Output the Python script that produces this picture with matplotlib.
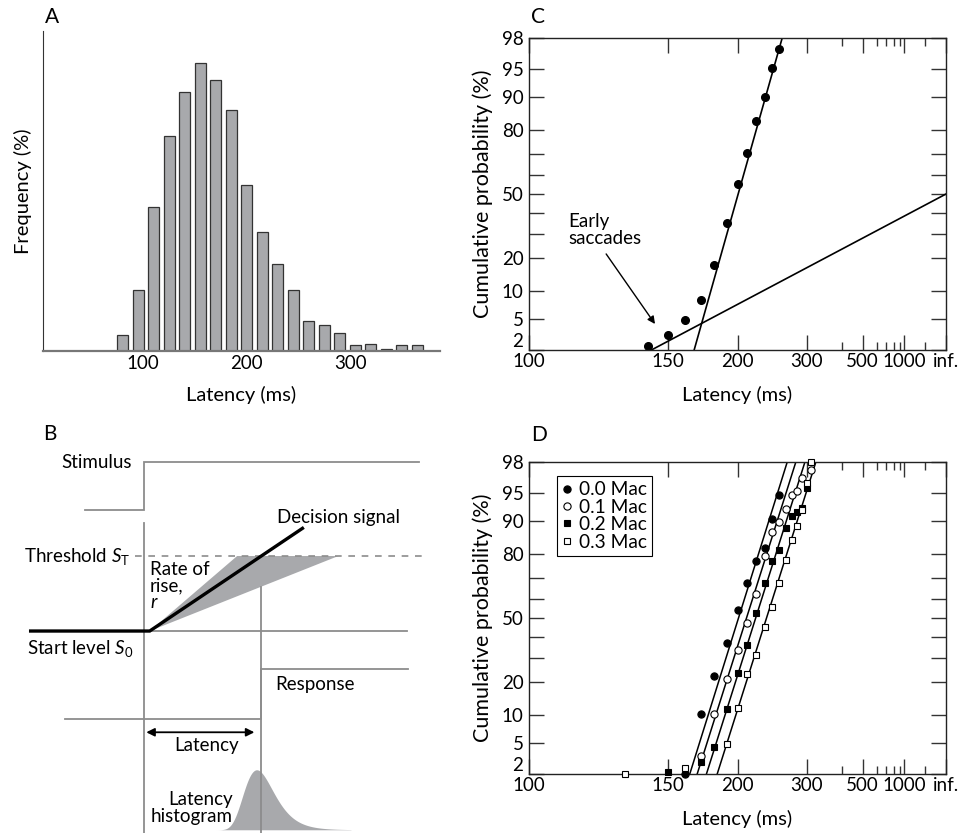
import numpy as np
import matplotlib
matplotlib.use("Agg")
import matplotlib.pyplot as plt
from matplotlib.patches import Polygon
from statistics import NormalDist

plt.rcParams['font.family'] = ['Lato', 'DejaVu Sans']
plt.rcParams['mathtext.fontset'] = 'custom'
plt.rcParams['mathtext.rm'] = 'Lato'
plt.rcParams['mathtext.it'] = 'Lato:italic'

# ---------------- data ----------------
# A: latency histogram (15 ms bins)
hist_bins = [80, 95, 110, 125, 140, 155, 170, 185, 200, 215,
             230, 245, 260, 275, 290, 305, 320, 335, 350, 365]
hist_freq = [0.8, 3.0, 7.1, 10.6, 12.8, 14.2, 13.4, 11.9, 8.2, 5.9,
             4.3, 3.0, 1.5, 1.3, 0.9, 0.3, 0.35, 0.1, 0.3, 0.3]

# C: one subject, cumulative latency distribution
c_latency = [140, 150, 160, 170, 180, 190, 200, 210, 220, 230, 240, 250]
c_cumprob = [2.3, 3.2, 4.8, 8.2, 17.4, 35.2, 55.0, 70.6, 83.3, 89.9, 95.1, 97.2]
# fitted lines: (median promptness in 1/s, sd in 1/s)
c_main_fit = (4.984, 0.514)
c_early_fit = (0.0, 3.44)

# D: four luminance conditions
d_labels = ['0.0 Mac', '0.1 Mac', '0.2 Mac', '0.3 Mac']
d_latency = [
    [160, 170, 180, 190, 200, 210, 220, 230, 240, 250],
    [170, 180, 190, 200, 210, 220, 230, 240, 250, 260, 270, 280, 290, 310],
    [150, 170, 180, 190, 200, 210, 220, 230, 240, 250, 260, 270, 280, 290, 300],
    [130, 160, 190, 200, 210, 220, 230, 240, 250, 260, 270, 280, 290, 300, 310],
]
d_cumprob = [
    [2.0, 10.4, 22.3, 36.9, 54.3, 67.7, 77.3, 82.3, 90.4, 94.7],
    [3.5, 10.3, 21.2, 33.8, 47.4, 62.5, 79.1, 87.1, 89.7, 92.5, 94.7, 95.3, 96.7, 97.4],
    [2.1, 2.9, 4.5, 11.6, 23.6, 36.2, 52.6, 67.9, 77.3, 81.5, 88.1, 91.0, 91.9, 92.6, 95.7],
    [2.0, 2.45, 4.9, 11.9, 23.2, 31.5, 45.5, 55.9, 67.9, 77.9, 84.8, 88.8, 92.2, 96.2, 98.0],
]
d_fits = [(4.976, 0.569), (4.784, 0.576), (4.564, 0.575), (4.304, 0.576)]
d_markers = [('o', 'black'), ('o', 'white'), ('s', 'black'), ('s', 'white')]

# B: LATER model schematic (time in ms, signal in arbitrary units)
STIM_ONSET = 0
RISE_START = 5
S0, ST = 0.0, 1.0
RATE_MEDIAN = 1 / 97
RATE_FAST, RATE_SLOW = 1 / 76, 1 / 164
RATE_SD = 0.15 * RATE_MEDIAN
STIM_LEVELS = (1.61, 2.25)
RESP_LEVELS = (-1.17, -0.51)

prob_ticks = [2, 5, 10, 20, 30, 40, 50, 60, 70, 80, 90, 95, 98]
INF_LAT = 1e12
lat_major = [100, 150, 200, 300, 500, 1000, INF_LAT]
lat_major_labels = ['100', '150', '200', '300', '500', '1000', 'inf.']
lat_minor = [400, 600, 700, 800, 900, 2000]

GREY = '#8c8c8c'
BAR_GREY = '#a8a9ac'
FS = 13

_nd = NormalDist()
_ppf = np.vectorize(lambda p: _nd.inv_cdf(min(max(p, 1e-9), 1 - 1e-9)), otypes=[float])
_cdf = np.vectorize(_nd.cdf, otypes=[float])


def prob_fwd(p):
    return _ppf(np.asarray(p, float) / 100.0)


def prob_inv(z):
    return _cdf(np.asarray(z, float)) * 100.0


def lat_fwd(t):
    t = np.asarray(t, float)
    with np.errstate(divide='ignore', invalid='ignore'):
        return np.where(t > 0, -1000.0 / t, -1e9)


def lat_inv(u):
    u = np.asarray(u, float)
    with np.errstate(divide='ignore', invalid='ignore'):
        return np.where(u < 0, -1000.0 / u, INF_LAT)


def fit_line(mu, sd, p_lo=2.0, p_hi=98.0):
    """End points (latency, %) of a straight reciprobit line."""
    z = prob_fwd([p_lo, p_hi])
    prompt = sd * z - mu
    lat = np.where(prompt < -1e-9, -1000.0 / np.minimum(prompt, -1e-12), INF_LAT)
    return lat, [p_lo, p_hi]


def reciprobit_axes(ax):
    ax.set_xscale('function', functions=(lat_fwd, lat_inv))
    ax.set_yscale('function', functions=(prob_fwd, prob_inv))
    ax.set_xlim(100, INF_LAT)
    ax.set_ylim(2, 98)
    ax.set_xticks(lat_major)
    ax.set_xticklabels(lat_major_labels)
    ax.set_xticks(lat_minor, minor=True)
    ax.set_yticks(prob_ticks)
    ax.set_yticklabels([str(v) if v not in (30, 40, 60, 70) else '' for v in prob_ticks])
    ax.yaxis.set_minor_locator(plt.NullLocator())
    ax.tick_params(which='both', direction='in', top=True, right=True,
                   color='#333333', width=1, labelsize=FS + 0.5)
    ax.tick_params(axis='y', pad=4)
    ax.tick_params(axis='x', pad=2)
    ax.tick_params(which='major', length=10.5)
    ax.tick_params(which='minor', length=5.5)
    # bottom "2" sits just above the corner, clear of the "100"
    ax.yaxis.get_majorticklabels()[0].set_verticalalignment('bottom')
    for s in ax.spines.values():
        s.set_color('#222222')
        s.set_linewidth(1.0)
    ax.set_xlabel('Latency (ms)', fontsize=FS + 1.5, va='center')
    ax.xaxis.set_label_coords(0.5, -0.145)
    ax.set_ylabel('Cumulative probability (%)', fontsize=FS + 2.5, va='center')
    ax.yaxis.set_label_coords(-0.112, 0.5)


fig = plt.figure(figsize=(9.65, 8.33), dpi=100)
W, H = 965, 833


def px_axes(x0, y0, x1, y1):
    return fig.add_axes([x0 / W, 1 - y1 / H, (x1 - x0) / W, (y1 - y0) / H])


# ---------------- A ----------------
axA = px_axes(43, 31, 440, 351)
axA.bar(hist_bins, hist_freq, width=10.7, color=BAR_GREY, edgecolor='#333333', linewidth=0.9)
axA.set_xlim(3, 387)
axA.set_ylim(0, 15.8)
axA.set_xticks([100, 200, 300])
axA.set_yticks([])
axA.tick_params(axis='x', length=0, labelsize=FS + 0.5, pad=3)
axA.spines[['top', 'right']].set_visible(False)
axA.spines['left'].set_color('#333333')
axA.spines['bottom'].set_color('#777777')
axA.spines['bottom'].set_linewidth(1.6)
axA.set_xlabel('Latency (ms)', fontsize=FS + 1.5, va='center')
axA.xaxis.set_label_coords(0.5, -0.137)
axA.set_ylabel('Frequency (%)', fontsize=FS + 1.5, va='center')
axA.yaxis.set_label_coords(-0.05, 0.5)

# ---------------- B ----------------
axB = px_axes(0, 440, 440, 833)
axB.set_xlim(-125.2, 257.4)
axB.set_ylim(-2.693, 2.547)
axB.axis('off')

resp_t = RISE_START + (ST - S0) / RATE_MEDIAN
t_fast = RISE_START + (ST - S0) / RATE_FAST
t_slow = RISE_START + (ST - S0) / RATE_SLOW

# stimulus step
axB.plot([-51, STIM_ONSET, STIM_ONSET, 239],
         [STIM_LEVELS[0], STIM_LEVELS[0], STIM_LEVELS[1], STIM_LEVELS[1]],
         color=GREY, lw=1.3, solid_joinstyle='miter')
# response step
axB.plot([-69, resp_t, resp_t, 230],
         [RESP_LEVELS[0], RESP_LEVELS[0], RESP_LEVELS[1], RESP_LEVELS[1]],
         color=GREY, lw=1.3, solid_joinstyle='miter')
# vertical time markers
axB.plot([STIM_ONSET, STIM_ONSET], [1.44, -2.693], color=GREY, lw=1.3)
slow_at_resp = S0 + RATE_SLOW * (resp_t - RISE_START)
axB.plot([resp_t, resp_t], [slow_at_resp, -2.693], color=GREY, lw=1.3)
# threshold and start level
axB.plot([-8, 242], [ST, ST], color=GREY, lw=1.2, dashes=(4, 4))
axB.plot([STIM_ONSET, 229], [S0, S0], color=GREY, lw=1.3)
# range of rates of rise
axB.add_patch(Polygon([[RISE_START, S0], [t_fast, ST], [t_slow, ST]],
                      closed=True, facecolor=BAR_GREY, edgecolor='none'))
# decision signal
t_end = 139
axB.plot([-100, RISE_START, t_end], [S0, S0, S0 + RATE_MEDIAN * (t_end - RISE_START)],
         color='black', lw=2.4, solid_capstyle='butt', solid_joinstyle='miter')
# latency arrow
axB.annotate('', xy=(resp_t - 6, -1.35), xytext=(STIM_ONSET + 2, -1.35),
             arrowprops=dict(arrowstyle='<|-|>', color='black', lw=1.3,
                             mutation_scale=12, shrinkA=0, shrinkB=0))
# latency histogram from the model (reciprocal-normal)
t_hist = np.linspace(RISE_START + 40, 180, 300)
rate = 1.0 / (t_hist - RISE_START)
dens = np.exp(-0.5 * ((rate - RATE_MEDIAN) / RATE_SD) ** 2) * rate ** 2
dens = dens / dens.max() * 0.8
axB.fill_between(t_hist, -2.65, -2.65 + dens, color=BAR_GREY, lw=0)

bfs = FS + 0.5
axB.text(-11, STIM_LEVELS[1], 'Stimulus', ha='right', va='center', fontsize=bfs)
axB.text(116, 1.52, 'Decision signal', ha='left', va='center', fontsize=bfs)
axB.text(-12, ST, r'Threshold $S_{\mathrm{T}}$', ha='right', va='center', fontsize=bfs)
axB.text(RISE_START, 0.93, 'Rate of\nrise,\n$r$', ha='left', va='top', fontsize=bfs,
         linespacing=0.95)
axB.text(-102, -0.23, r'Start level $S_0$', ha='left', va='center', fontsize=bfs)
axB.text(114, -0.71, 'Response', ha='left', va='center', fontsize=bfs)
axB.text(54, -1.53, 'Latency', ha='center', va='center', fontsize=bfs)
axB.text(77, -2.36, 'Latency\nhistogram', ha='right', va='center', fontsize=bfs,
         multialignment='right', linespacing=0.95)

# ---------------- C ----------------
axC = px_axes(529, 38, 946, 350)
reciprobit_axes(axC)
lat, pr = fit_line(*c_main_fit)
axC.plot(lat, pr, color='black', lw=1.2)
lat, pr = fit_line(*c_early_fit, p_hi=50.0)
axC.plot(lat, pr, color='black', lw=1.2)
axC.plot(c_latency, c_cumprob, 'o', color='black', ms=5.5, clip_on=False)
axC.annotate('', xy=(143.3, 4.35), xytext=(122.7, 21.5),
             arrowprops=dict(arrowstyle='-|>', color='black', lw=1.0,
                             mutation_scale=11, shrinkA=0, shrinkB=0))
axC.text(110.3, 32, 'Early\nsaccades', ha='left', va='center', fontsize=FS + 0.5,
         linespacing=1.0)

# ---------------- D ----------------
axD = px_axes(529, 462, 946, 774)
reciprobit_axes(axD)
for mu, sd in d_fits:
    lat, pr = fit_line(mu, sd)
    axD.plot(lat, pr, color='black', lw=1.1)
for lats, probs, lab, (mk, fc) in zip(d_latency, d_cumprob, d_labels, d_markers):
    ms = 5.2 if mk == 'o' else 4.6
    axD.plot(lats, probs, mk, mfc=fc, mec='black', mew=0.8, ms=ms,
             linestyle='none', label=lab, clip_on=False, zorder=3)
leg = axD.legend(loc='upper left', bbox_to_anchor=(0.067, 0.955), borderaxespad=0,
                 fontsize=FS + 0.8, handlelength=0.5, handletextpad=0.35, labelspacing=0.02,
                 borderpad=0.28, fancybox=False, framealpha=1, edgecolor='black')
leg.get_frame().set_linewidth(0.8)

# panel letters
for lab, (x, y) in zip('ABCD', [(52, 17), (50, 434), (538, 17), (539, 435)]):
    fig.text(x / W, 1 - y / H, lab, ha='center', va='center', fontsize=15)

fig.savefig('out.png', dpi=100)
